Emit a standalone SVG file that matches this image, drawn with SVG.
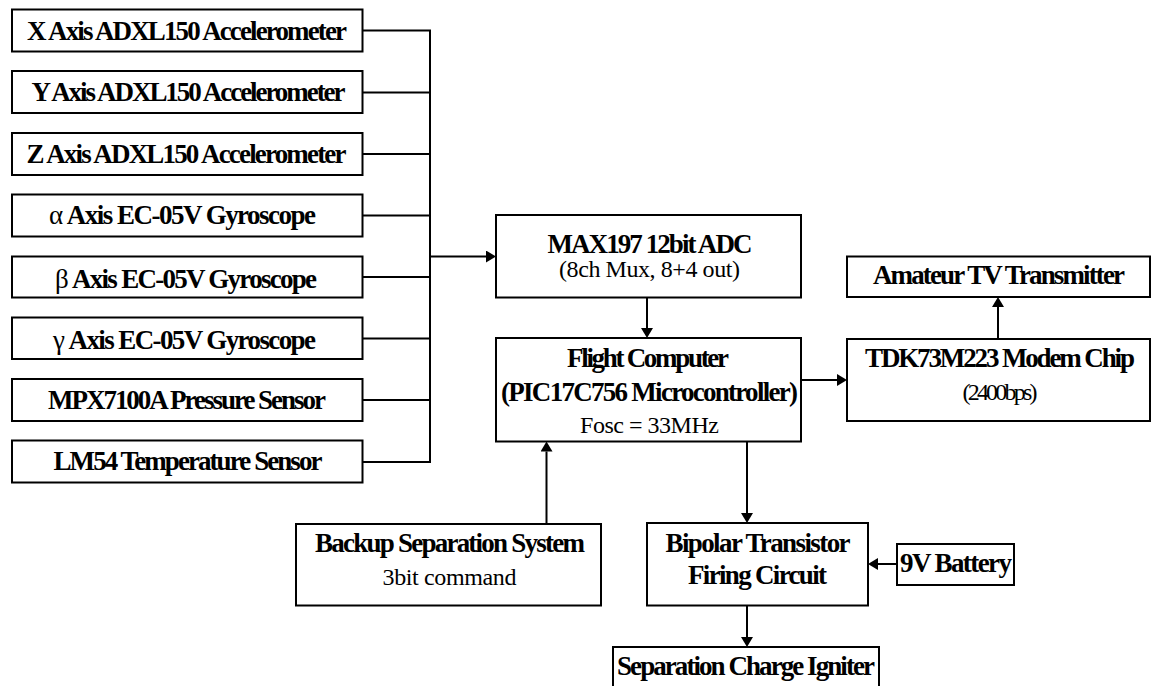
<svg xmlns="http://www.w3.org/2000/svg" width="1152" height="686" viewBox="0 0 1152 686">
<style>
.box{fill:#fff;stroke:#000;stroke-width:2}
.b{font-family:"Liberation Serif","Times New Roman",serif;font-weight:bold;font-size:27px;text-anchor:middle;fill:#000}
.r{font-family:"Liberation Serif","Times New Roman",serif;font-size:24px;text-anchor:middle;fill:#000}
.c{fill:none;stroke:#000;stroke-width:2}
</style>
<defs>
<marker id="ah" markerWidth="10" markerHeight="12" refX="0" refY="6" orient="auto" markerUnits="userSpaceOnUse">
<path d="M0,0 L10,6 L0,12 z" fill="#000"/>
</marker>
</defs>
<rect x="0" y="0" width="1152" height="686" fill="#fff"/>
<g id="connectors">
<path class="c" d="M362,30.5 H430 M362,92.5 H430 M362,154 H430 M362,215.5 H430 M362,277 H430 M362,338.5 H430 M362,400 H430 M362,462 H430 M430,29.5 V463"/>
<path class="c" d="M430,256.5 H486" marker-end="url(#ah)"/>
<path class="c" d="M647,297.5 V328" marker-end="url(#ah)"/>
<path class="c" d="M801,380 H837" marker-end="url(#ah)"/>
<path class="c" d="M998,339 V307" marker-end="url(#ah)"/>
<path class="c" d="M546.5,524 V451.5" marker-end="url(#ah)"/>
<path class="c" d="M747,441.5 V513" marker-end="url(#ah)"/>
<path class="c" d="M897,564 H878" marker-end="url(#ah)"/>
<path class="c" d="M747,605.5 V637" marker-end="url(#ah)"/>
</g>
<g id="x-accel"><rect class="box" x="12" y="9.5" width="350.5" height="42"/><text class="b" x="187" y="39.5" textLength="320" lengthAdjust="spacing">X Axis ADXL150 Accelerometer</text></g>
<g id="y-accel"><rect class="box" x="12" y="71" width="350.5" height="42"/><text class="b" x="188.5" y="101" textLength="314" lengthAdjust="spacing">Y Axis ADXL150 Accelerometer</text></g>
<g id="z-accel"><rect class="box" x="12" y="133" width="350.5" height="42"/><text class="b" x="186.5" y="162.5" textLength="320" lengthAdjust="spacing">Z Axis ADXL150 Accelerometer</text></g>
<g id="alpha-gyro"><rect class="box" x="12" y="194.5" width="350.5" height="42"/><text class="b" x="182.5" y="224" textLength="267" lengthAdjust="spacing"><tspan font-weight="normal">α</tspan> Axis EC-05V Gyroscope</text></g>
<g id="beta-gyro"><rect class="box" x="12" y="256.5" width="350.5" height="41"/><text class="b" x="186" y="287.5" textLength="262" lengthAdjust="spacing"><tspan font-weight="normal">β</tspan> Axis EC-05V Gyroscope</text></g>
<g id="gamma-gyro"><rect class="box" x="12" y="317.5" width="350.5" height="41.5"/><text class="b" x="184.5" y="348.5" textLength="263" lengthAdjust="spacing"><tspan font-weight="normal">γ</tspan> Axis EC-05V Gyroscope</text></g>
<g id="pressure"><rect class="box" x="12" y="379" width="350.5" height="42"/><text class="b" x="187" y="408.5" textLength="278" lengthAdjust="spacing">MPX7100A Pressure Sensor</text></g>
<g id="temperature"><rect class="box" x="12" y="440.5" width="350.5" height="42"/><text class="b" x="188" y="469.5" textLength="269" lengthAdjust="spacing">LM54 Temperature Sensor</text></g>
<g id="adc"><rect class="box" x="496" y="215" width="305" height="82.5"/><text class="b" x="650" y="253" textLength="205" lengthAdjust="spacing">MAX197 12bit ADC</text><text class="r" x="649.5" y="277" textLength="181" lengthAdjust="spacing">(8ch Mux, 8+4 out)</text></g>
<g id="flight-computer"><rect class="box" x="496" y="338" width="305" height="103.5"/><text class="b" x="648" y="366.5" textLength="162" lengthAdjust="spacing">Flight Computer</text><text class="b" x="649.5" y="401" textLength="297" lengthAdjust="spacing">(PIC17C756 Microcontroller)</text><text class="r" x="649.5" y="432.5" textLength="139" lengthAdjust="spacing">Fosc = 33MHz</text></g>
<g id="atv"><rect class="box" x="847" y="256.5" width="303" height="40.5"/><text class="b" x="999" y="283.5" textLength="252" lengthAdjust="spacing">Amateur TV Transmitter</text></g>
<g id="modem"><rect class="box" x="847" y="339" width="303" height="82"/><text class="b" x="1000" y="366.5" textLength="270" lengthAdjust="spacing">TDK73M223 Modem Chip</text><text class="r" x="1000" y="400" font-size="22" textLength="75" lengthAdjust="spacing">(2400bps)</text></g>
<g id="backup"><rect class="box" x="296" y="524" width="305" height="81.5"/><text class="b" x="450" y="551.5" textLength="270" lengthAdjust="spacing">Backup Separation System</text><text class="r" x="449.5" y="585" textLength="134" lengthAdjust="spacing">3bit command</text></g>
<g id="firing-circuit"><rect class="box" x="647" y="523" width="221" height="82.5"/><text class="b" x="758" y="551.5" textLength="185" lengthAdjust="spacing">Bipolar Transistor</text><text class="b" x="757.5" y="584" textLength="139" lengthAdjust="spacing">Firing Circuit</text></g>
<g id="battery"><rect class="box" x="897" y="544" width="117" height="41"/><text class="b" x="956" y="571.5" textLength="112" lengthAdjust="spacing">9V Battery</text></g>
<g id="igniter"><rect class="box" x="613" y="647" width="266" height="60"/><text class="b" x="746" y="675" textLength="258" lengthAdjust="spacing">Separation Charge Igniter</text></g>
</svg>
